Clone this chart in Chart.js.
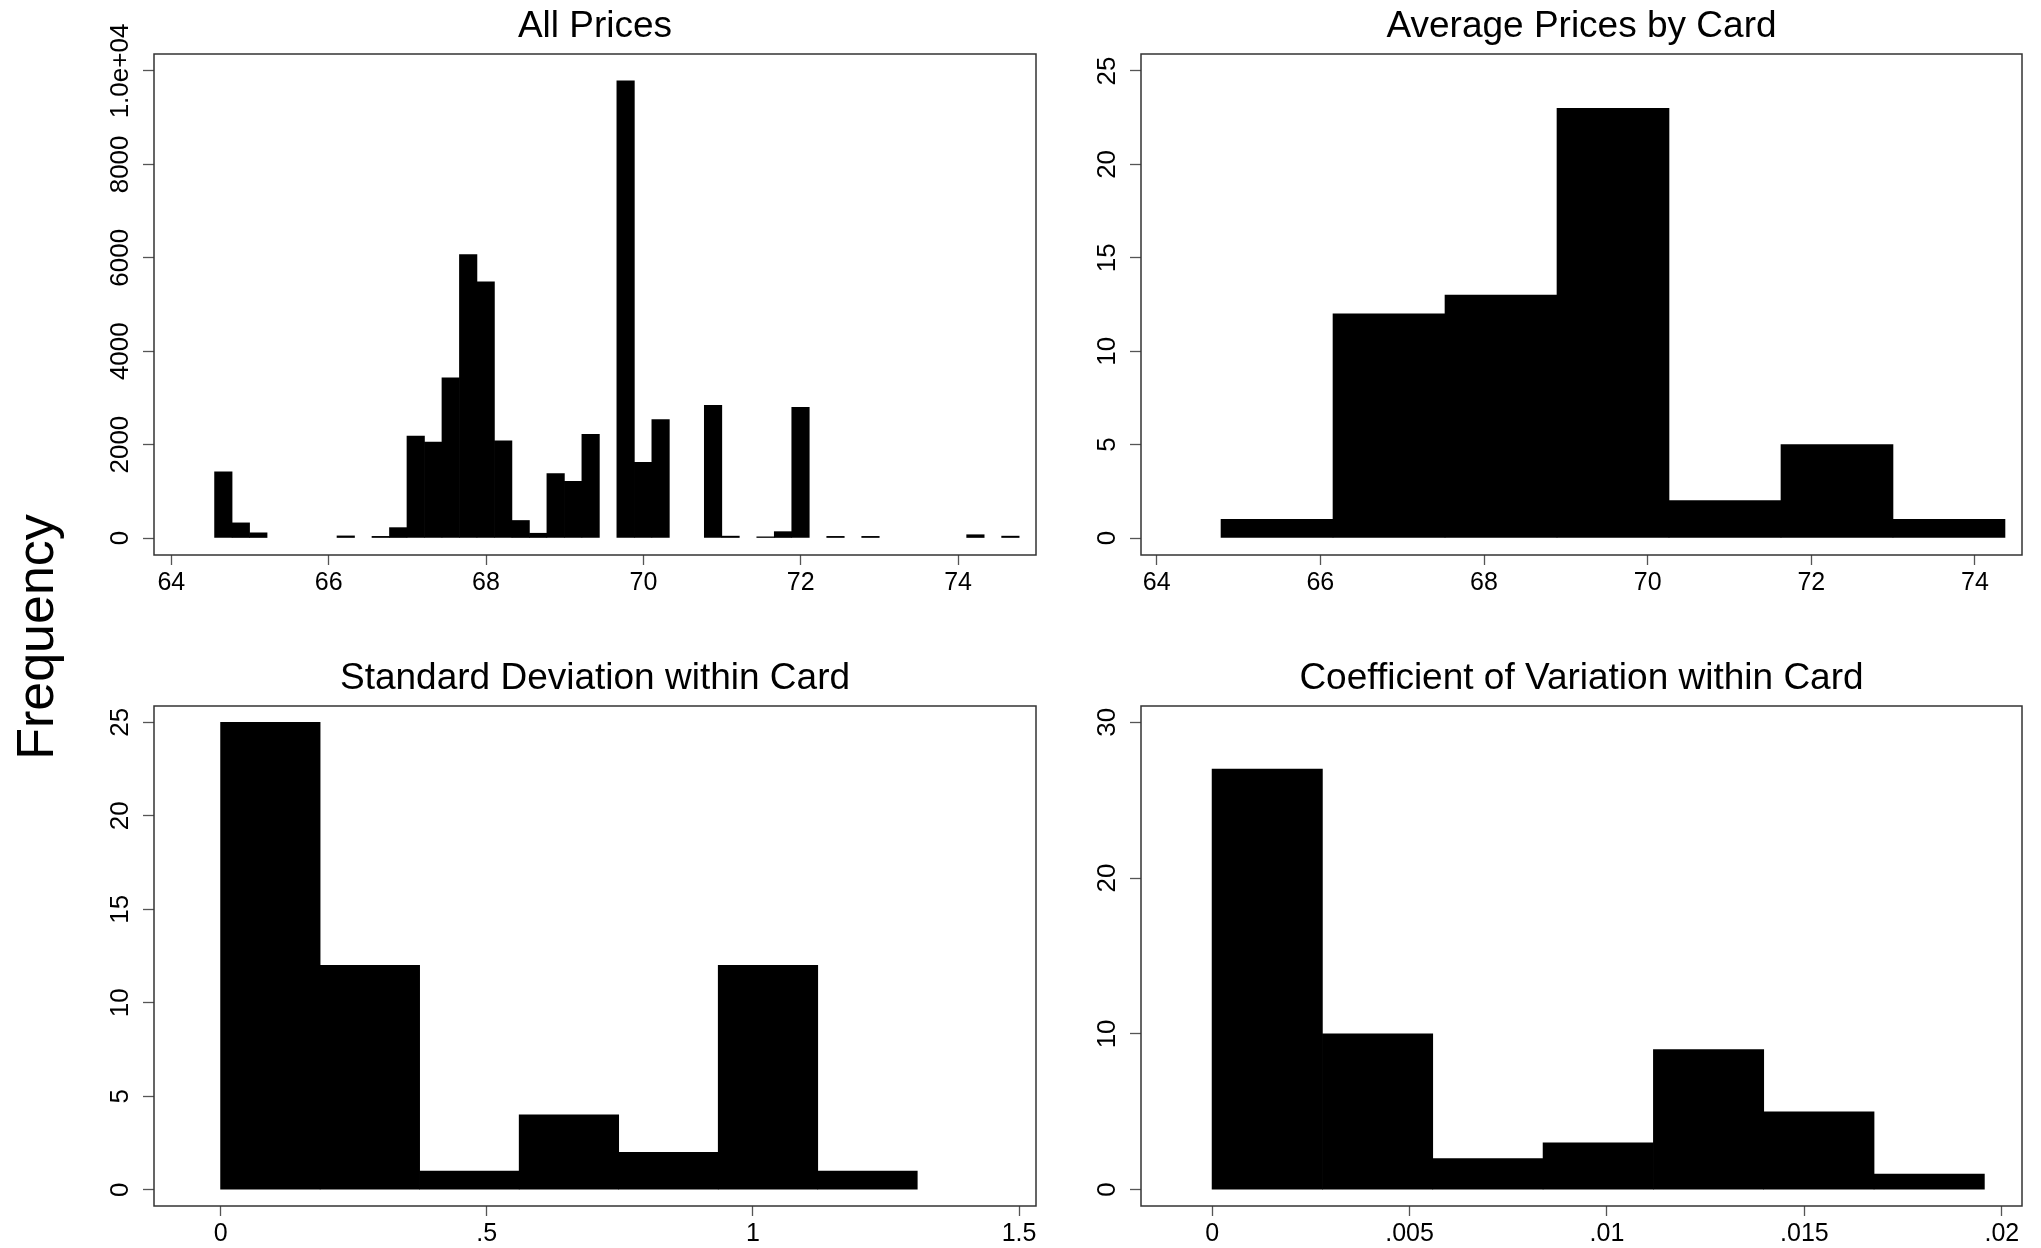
<!DOCTYPE html>
<html>
<head>
    <title>Card Price Histograms</title>
    <meta charset="UTF-8">
    <style>
        html, body { margin: 0; padding: 0; background: #fff; overflow: hidden; }
        body { width: 2041px; height: 1248px; position: relative; font-family: "Liberation Sans", Arial, Helvetica, sans-serif; }
        .panel { position: absolute; }
        .panel canvas { display: block; }
        #ylab { position: absolute; left: 35px; top: 637px; transform: translate(-50%, -50%) rotate(-90deg);
                font-size: 52px; line-height: 1; white-space: nowrap; color: #000; }
    </style>
    <script src="https://cdn.jsdelivr.net/npm/chart.js@4.4.1/dist/chart.umd.min.js"></script>
</head>
<body>
    <div id="ylab">Frequency</div>
    <div class="panel" style="left:90px;top:0;width:960px;height:624px"><canvas id="c1"></canvas></div>
    <div class="panel" style="left:1050px;top:0;width:991px;height:624px"><canvas id="c2"></canvas></div>
    <div class="panel" style="left:90px;top:652px;width:960px;height:596px"><canvas id="c3"></canvas></div>
    <div class="panel" style="left:1050px;top:652px;width:991px;height:596px"><canvas id="c4"></canvas></div>

    <script>
        // All Prices: 46 bins
        const allPricesStart = 64.55;
        const allPricesBin = 0.2223;
        const allPricesCounts = [
            1416, 324, 111, 0, 0, 0, 0, 45, 0, 35,
            222, 2184, 2056, 3430, 6067, 5486, 2082, 375, 102, 1382,
            1212, 2218, 0, 9787, 1621, 2534, 0, 0, 2841, 40,
            0, 25, 136, 2799, 0, 35, 0, 35, 0, 0,
            0, 0, 0, 70, 0, 40
        ];
        const allPricesXTicks = [64, 66, 68, 70, 72, 74];
        const allPricesXLabels = ['64', '66', '68', '70', '72', '74'];
        const allPricesYTicks = [0, 2000, 4000, 6000, 8000, 10000];
        const allPricesYLabels = ['0', '2000', '4000', '6000', '8000', '1.0e+04'];

        // Average Prices by Card: 7 bins
        const avgStart = 64.786;
        const avgBin = 1.3687;
        const avgCounts = [1, 12, 13, 23, 2, 5, 1];
        const avgXTicks = [64, 66, 68, 70, 72, 74];
        const avgXLabels = ['64', '66', '68', '70', '72', '74'];
        const avgYTicks = [0, 5, 10, 15, 20, 25];
        const avgYLabels = ['0', '5', '10', '15', '20', '25'];

        // Standard Deviation within Card: 7 bins
        const sdStart = 0;
        const sdBin = 0.18698;
        const sdCounts = [25, 12, 1, 4, 2, 12, 1];
        const sdXTicks = [0, 0.5, 1, 1.5];
        const sdXLabels = ['0', '.5', '1', '1.5'];
        const sdYTicks = [0, 5, 10, 15, 20, 25];
        const sdYLabels = ['0', '5', '10', '15', '20', '25'];

        // Coefficient of Variation within Card: 7 bins
        const cvStart = 0;
        const cvBin = 0.0027939;
        const cvCounts = [27, 10, 2, 3, 9, 5, 1];
        const cvXTicks = [0, 0.005, 0.01, 0.015, 0.02];
        const cvXLabels = ['0', '.005', '.01', '.015', '.02'];
        const cvYTicks = [0, 10, 20, 30];
        const cvYLabels = ['0', '10', '20', '30'];

        const FONT = '"Liberation Sans", Arial, Helvetica, sans-serif';
        const X_TICK_SIZE = 25;
        const Y_TICK_SIZE = 26;

        // box round the plot region
        const frame = {
            id: 'frame',
            afterDatasetsDraw(chart) {
                const { ctx, chartArea: a } = chart;
                ctx.save();
                ctx.strokeStyle = '#333';
                ctx.lineWidth = 1.5;
                ctx.strokeRect(a.left, a.top, a.right - a.left, a.bottom - a.top);
                ctx.restore();
            }
        };

        function textWidth(labels) {
            const c = document.createElement('canvas').getContext('2d');
            c.font = Y_TICK_SIZE + 'px ' + FONT;
            return Math.max(...labels.map(l => c.measureText(l).width));
        }

        function histogram(id, p) {
            const points = p.counts.map((c, i) => ({ x: p.start + (i + 0.5) * p.bin, y: c }));
            // rotated y labels are placed by their unrotated width, so undo that
            const yPad = 22 - textWidth(p.yLabels) / 2;
            return new Chart(document.getElementById(id), {
                type: 'bar',
                data: {
                    datasets: [{
                        data: points,
                        backgroundColor: '#000',
                        borderWidth: 0,
                        barPercentage: 1,
                        categoryPercentage: 1,
                        inflateAmount: ctx => (ctx.raw && ctx.raw.y > 0 ? 0.33 : 0)
                    }]
                },
                options: {
                    responsive: true,
                    maintainAspectRatio: false,
                    animation: false,
                    devicePixelRatio: 1,
                    layout: { padding: { left: 0, right: p.padRight, top: 0, bottom: 0 } },
                    plugins: {
                        legend: { display: false },
                        tooltip: { enabled: false },
                        title: {
                            display: true,
                            text: p.title,
                            fullSize: false,
                            color: '#000',
                            font: { family: FONT, size: 37, weight: 'normal', lineHeight: 1.2 },
                            padding: { top: 5, bottom: 4.6 }
                        }
                    },
                    scales: {
                        x: {
                            type: 'linear',
                            min: p.xMin,
                            max: p.xMax,
                            offset: false,
                            grid: { drawOnChartArea: false, drawTicks: true, tickLength: 10, tickColor: '#555', tickWidth: 1.3, offset: false },
                            border: { display: false },
                            ticks: {
                                autoSkip: false, maxRotation: 0, padding: 3, color: '#000',
                                font: { family: FONT, size: X_TICK_SIZE },
                                callback: (v, i) => p.xLabels[i]
                            },
                            afterBuildTicks: s => { s.ticks = p.xTicks.map(v => ({ value: v })); },
                            afterFit: s => { s.height = p.xAxisH; }
                        },
                        y: {
                            type: 'linear',
                            min: p.yMin,
                            max: p.yMax,
                            grid: { drawOnChartArea: false, drawTicks: true, tickLength: 11, tickColor: '#555', tickWidth: 1.3 },
                            border: { display: false },
                            ticks: {
                                autoSkip: false, minRotation: 90, maxRotation: 90, crossAlign: 'center',
                                padding: yPad, color: '#000',
                                font: { family: FONT, size: Y_TICK_SIZE },
                                callback: (v, i) => p.yLabels[i]
                            },
                            afterBuildTicks: s => { s.ticks = p.yTicks.map(v => ({ value: v })); },
                            afterFit: s => { s.width = p.yAxisW; }
                        }
                    }
                },
                plugins: [frame]
            });
        }

        histogram('c1', {
            title: 'All Prices', start: allPricesStart, bin: allPricesBin, counts: allPricesCounts,
            xTicks: allPricesXTicks, xLabels: allPricesXLabels, yTicks: allPricesYTicks, yLabels: allPricesYLabels,
            xMin: 63.78, xMax: 74.99, yMin: -364, yMax: 10364, yAxisW: 64, xAxisH: 69, padRight: 14
        });
        histogram('c2', {
            title: 'Average Prices by Card', start: avgStart, bin: avgBin, counts: avgCounts,
            xTicks: avgXTicks, xLabels: avgXLabels, yTicks: avgYTicks, yLabels: avgYLabels,
            xMin: 63.808, xMax: 74.575, yMin: -0.91, yMax: 25.91, yAxisW: 91, xAxisH: 69, padRight: 19
        });
        histogram('c3', {
            title: 'Standard Deviation within Card', start: sdStart, bin: sdBin, counts: sdCounts,
            xTicks: sdXTicks, xLabels: sdXLabels, yTicks: sdYTicks, yLabels: sdYLabels,
            xMin: -0.1251, xMax: 1.5319, yMin: -0.87, yMax: 25.87, yAxisW: 64, xAxisH: 42, padRight: 14
        });
        histogram('c4', {
            title: 'Coefficient of Variation within Card', start: cvStart, bin: cvBin, counts: cvCounts,
            xTicks: cvXTicks, xLabels: cvXLabels, yTicks: cvYTicks, yLabels: cvYLabels,
            xMin: -0.0018, xMax: 0.02051, yMin: -1.05, yMax: 31.05, yAxisW: 91, xAxisH: 42, padRight: 19
        });
    </script>
</body>
</html>
